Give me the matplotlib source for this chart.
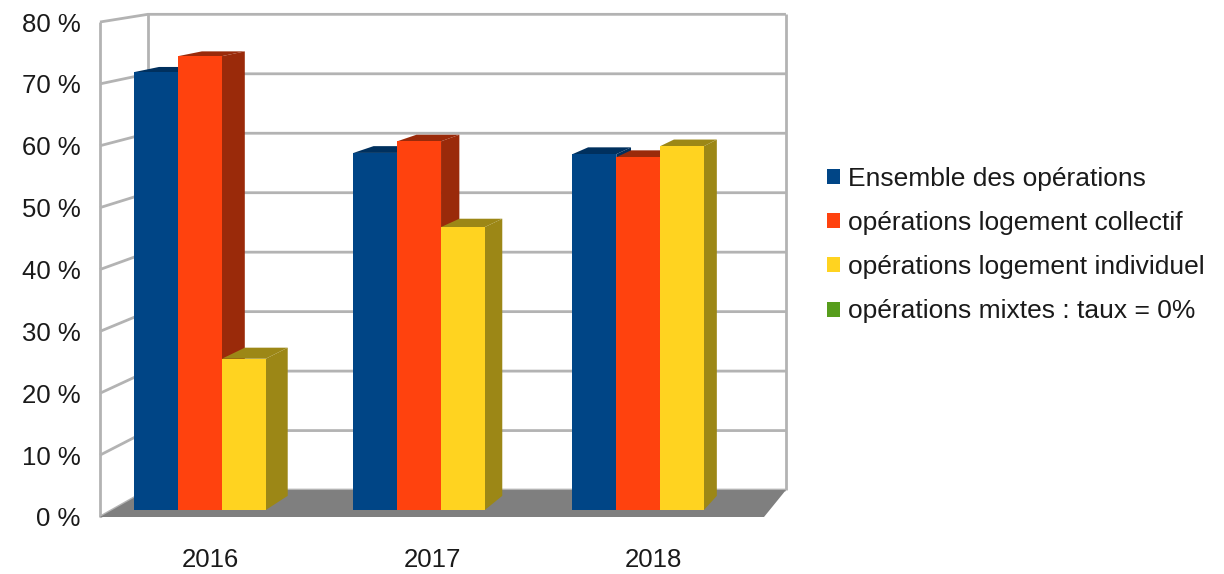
import matplotlib
matplotlib.use("Agg")
import matplotlib.pyplot as plt
from matplotlib.patches import Polygon, Patch

# ---- data ----
years = ["2016", "2017", "2018"]
series_names = [
    "Ensemble des opérations",
    "opérations logement collectif",
    "opérations logement individuel",
    "opérations mixtes : taux = 0%",
]
ensemble = [71.5, 58.3, 58.1]
collectif = [74.1, 60.2, 57.6]
individuel = [24.7, 46.2, 59.4]
mixtes = [0.0, 0.0, 0.0]
y_ticks = [0, 10, 20, 30, 40, 50, 60, 70, 80]
y_tick_labels = [f"{v} %" for v in y_ticks]

# ---- style ----
front_colors = ["#004586", "#ff420e", "#ffd320", "#579d1c"]
shade_colors = ["#00305e", "#9a2a0a", "#9c8716", "#3a6a12"]
grid_color = "#b3b3b3"
floor_color = "#7f7f7f"
FONT = "Liberation Sans"
FS = 18.5

# perspective settings (in data units of the front plane)
VX, VY = 5.04, 111.8      # vanishing point
T_BACK = 0.039            # depth of back wall
T_BAR0, T_BAR1 = 0.0101, 0.0306   # depth range of bars
BAR_W = 0.2

def proj(x, y, t):
    return (x + t * (VX - x), y + t * (VY - y))

fig = plt.figure(figsize=(12.24, 5.74), dpi=100)
ax = fig.add_axes([100 / 1224, (574 - 517) / 574, 664 / 1224, 495 / 574])
ax.set_xlim(-0.5, 2.5)
ax.set_ylim(0, 80)
ax.patch.set_alpha(0)
for s in ax.spines.values():
    s.set_visible(False)

x_lo, x_hi = ax.get_xlim()
y_lo, y_hi = ax.get_ylim()

def poly(pts, fc, ec="none", lw=0, z=1):
    p = Polygon(pts, closed=True, facecolor=fc, edgecolor=ec, linewidth=lw,
                zorder=z, clip_on=False, joinstyle="miter")
    ax.add_patch(p)

def line(pts, z=2, lw=2.0):
    xs = [p[0] for p in pts]
    ys = [p[1] for p in pts]
    ax.plot(xs, ys, color=grid_color, lw=lw, zorder=z, clip_on=False,
            solid_capstyle="butt")

# walls
poly([proj(x_lo, y_lo, T_BACK), proj(x_hi, y_lo, T_BACK),
      proj(x_hi, y_hi, T_BACK), proj(x_lo, y_hi, T_BACK)], "white", z=1)
poly([proj(x_lo, y_lo, 0), proj(x_lo, y_lo, T_BACK),
      proj(x_lo, y_hi, T_BACK), proj(x_lo, y_hi, 0)], "white", z=1)

# grid lines
for v in y_ticks:
    line([proj(x_lo, v, 0), proj(x_lo, v, T_BACK), proj(x_hi, v, T_BACK)])
line([proj(x_lo, y_lo, 0), proj(x_lo, y_hi, 0)])
line([proj(x_lo, y_lo, T_BACK), proj(x_lo, y_hi, T_BACK)])
line([proj(x_hi, y_lo, T_BACK), proj(x_hi, y_hi, T_BACK)])

# floor
poly([proj(x_lo, 0, 0), proj(x_hi, 0, 0),
      proj(x_hi, 0, T_BACK), proj(x_lo, 0, T_BACK)], floor_color, z=3)

# bars
all_series = [ensemble, collectif, individuel, mixtes]
z = 4
for i in range(len(years)):
    for j, vals in enumerate(all_series):
        h = vals[i]
        if h <= 0:
            continue
        x0 = i - 2 * BAR_W + j * BAR_W
        x1 = x0 + BAR_W
        # side
        poly([proj(x1, 0, T_BAR0), proj(x1, 0, T_BAR1),
              proj(x1, h, T_BAR1), proj(x1, h, T_BAR0)], shade_colors[j], z=z)
        # top
        poly([proj(x0, h, T_BAR0), proj(x1, h, T_BAR0),
              proj(x1, h, T_BAR1), proj(x0, h, T_BAR1)], shade_colors[j], z=z)
        # front
        poly([proj(x0, 0, T_BAR0), proj(x1, 0, T_BAR0),
              proj(x1, h, T_BAR0), proj(x0, h, T_BAR0)], front_colors[j], z=z + 0.5)
        z += 1

# ticks
ax.set_yticks(y_ticks, y_tick_labels)
ax.set_xticks(range(len(years)), years)
ax.tick_params(axis="y", length=0, pad=14, labelsize=FS, labelcolor="#1a1a1a")
ax.tick_params(axis="x", length=0, pad=22, labelsize=FS, labelcolor="#1a1a1a")
for lab in ax.get_xticklabels() + ax.get_yticklabels():
    lab.set_fontfamily(FONT)

# legend
handles = [Patch(facecolor=c, edgecolor="none") for c in front_colors]
fig.legend(handles, series_names, loc="center left",
           bbox_to_anchor=(803 / 1224, 1 - 245 / 574), frameon=False,
           prop={"family": FONT, "size": 19}, handlelength=0.5,
           handleheight=0.5, handletextpad=0.3, labelspacing=0.77,
           labelcolor="#1a1a1a")

fig.savefig("out.png", dpi=100)
